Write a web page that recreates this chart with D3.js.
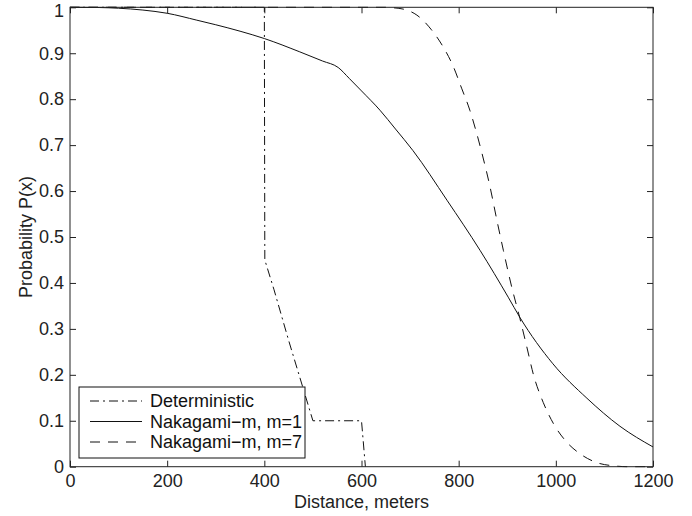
<!DOCTYPE html>
<html>
<head>
<meta charset="utf-8">
<script src="https://cdn.jsdelivr.net/npm/d3@7"></script>
<style>
body { margin: 0; background: #fff; }
svg { font-family: "Liberation Sans", Arial, sans-serif; }
</style>
</head>
<body>
<script>
// values
var xTicks = [0, 200, 400, 600, 800, 1000, 1200];
var yTicks = [0, 0.1, 0.2, 0.3, 0.4, 0.5, 0.6, 0.7, 0.8, 0.9, 1];

var detX = [0, 400, 401, 420, 450, 480, 500, 600, 608];
var detP = [1, 1, 0.45, 0.385, 0.275, 0.17, 0.1, 0.1, 0];

var m1X = [0, 60, 100, 150, 200, 261, 300, 350, 400, 473, 520, 552, 575, 600, 638, 670, 706, 776, 844, 902, 926, 994, 1064, 1132, 1200];
var m1P = [1, 0.9995, 0.998, 0.994, 0.987, 0.972, 0.962, 0.948, 0.932, 0.903, 0.883, 0.869, 0.845, 0.818, 0.776, 0.735, 0.688, 0.580, 0.471, 0.369, 0.325, 0.224, 0.149, 0.088, 0.043];

var m7X = [0, 600, 650, 665, 690, 714, 744, 768, 789, 806, 823, 837, 848, 865, 878, 892, 909, 926, 940, 954, 974, 995, 1022, 1050, 1084, 1118, 1150, 1200];
var m7P = [1, 1, 1, 0.999, 0.995, 0.983, 0.951, 0.914, 0.871, 0.824, 0.776, 0.726, 0.682, 0.607, 0.540, 0.471, 0.392, 0.323, 0.262, 0.200, 0.140, 0.094, 0.054, 0.028, 0.009, 0.002, 0, 0];

var legendNames = ["Deterministic", "Nakagami\u2212m, m=1", "Nakagami\u2212m, m=7"];

var width = 692;
var height = 516;
var margin = {top: 7.3, right: 39, bottom: 49.3, left: 70};
var w = width - margin.left - margin.right;
var h = height - margin.top - margin.bottom;

var x = d3.scaleLinear().domain([0, 1200]).range([0, w]);
var y = d3.scaleLinear().domain([0, 1]).range([h, 0]);

var svg = d3.select("body").append("svg")
	.attr("width", width)
	.attr("height", height);

var g = svg.append("g")
	.attr("transform", "translate(" + margin.left + "," + margin.top + ")");

var fmt = function(d) { return String(+d.toFixed(1)); };

// axes, ticks pointing inward like matlab
var bottomAxis = d3.axisBottom(x).tickValues(xTicks).tickSize(-6).tickPadding(8).tickFormat(function(d) { return String(d); });
var topAxis = d3.axisTop(x).tickValues(xTicks).tickSize(-6).tickFormat("");
var leftAxis = d3.axisLeft(y).tickValues(yTicks).tickSize(-6).tickPadding(6).tickFormat(fmt);
var rightAxis = d3.axisRight(y).tickValues(yTicks).tickSize(-6).tickFormat("");

function styleAxis(sel) {
	sel.select(".domain").remove();
	sel.selectAll("line").attr("stroke", "#222");
	sel.selectAll("text").attr("font-size", "18px").attr("fill", "#222")
		.attr("font-family", "\"Liberation Sans\", Arial, sans-serif");
}

g.append("g").attr("transform", "translate(0," + h + ")").call(bottomAxis).call(styleAxis);
g.append("g").call(topAxis).call(styleAxis);
var yAxisG = g.append("g").call(leftAxis).call(styleAxis);
// top label "1" sits a bit lower so it is not clipped
yAxisG.selectAll(".tick text").filter(function(d) { return d === 1; }).attr("y", 3);
g.append("g").attr("transform", "translate(" + w + ",0)").call(rightAxis).call(styleAxis);

var line = d3.line()
	.x(function(d) { return x(d[0]); })
	.y(function(d) { return y(d[1]); });

var smooth = d3.line()
	.curve(d3.curveMonotoneX)
	.x(function(d) { return x(d[0]); })
	.y(function(d) { return y(d[1]); });

var detData = d3.zip(detX, detP);
var m1Data = d3.zip(m1X, m1P);
var m7Data = d3.zip(m7X, m7P);

var dashes = ["9,4,2,4", null, "10,8"];

g.append("path").datum(m7Data)
	.attr("d", smooth)
	.attr("fill", "none").attr("stroke", "#111").attr("stroke-width", 1)
	.attr("stroke-dasharray", dashes[2]);

g.append("path").datum(m1Data)
	.attr("d", smooth)
	.attr("fill", "none").attr("stroke", "#111").attr("stroke-width", 1);

g.append("path").datum(detData)
	.attr("d", line)
	.attr("fill", "none").attr("stroke", "#111").attr("stroke-width", 1)
	.attr("stroke-dasharray", dashes[0]);

// box
g.append("rect")
	.attr("width", w).attr("height", h)
	.attr("fill", "none").attr("stroke", "#222").attr("stroke-width", 1);

// legend
var lg = svg.append("g").attr("transform", "translate(79,387)");
lg.append("rect")
	.attr("width", 226).attr("height", 71)
	.attr("fill", "#fff").attr("stroke", "#111").attr("stroke-width", 1);

legendNames.forEach(function(name, i) {
	var yy = 14 + i * 20.5;
	lg.append("line")
		.attr("x1", 11).attr("x2", 63)
		.attr("y1", yy).attr("y2", yy)
		.attr("stroke", "#111").attr("stroke-width", 1)
		.attr("stroke-dasharray", dashes[i]);
	lg.append("text")
		.attr("x", 71).attr("y", yy)
		.attr("dy", "0.35em")
		.attr("font-size", "18px")
		.attr("fill", "#111")
		.text(name);
});

// axis labels
g.append("text")
	.attr("x", w / 2)
	.attr("y", h + 41)
	.attr("font-size", "18px")
	.attr("text-anchor", "middle")
	.attr("fill", "#222")
	.text("Distance, meters");

g.append("text")
	.attr("x", -(h / 2))
	.attr("y", -38)
	.attr("font-size", "18px")
	.attr("text-anchor", "middle")
	.attr("transform", "rotate(-90)")
	.attr("fill", "#222")
	.text("Probability P(x)");
</script>
</body>
</html>
